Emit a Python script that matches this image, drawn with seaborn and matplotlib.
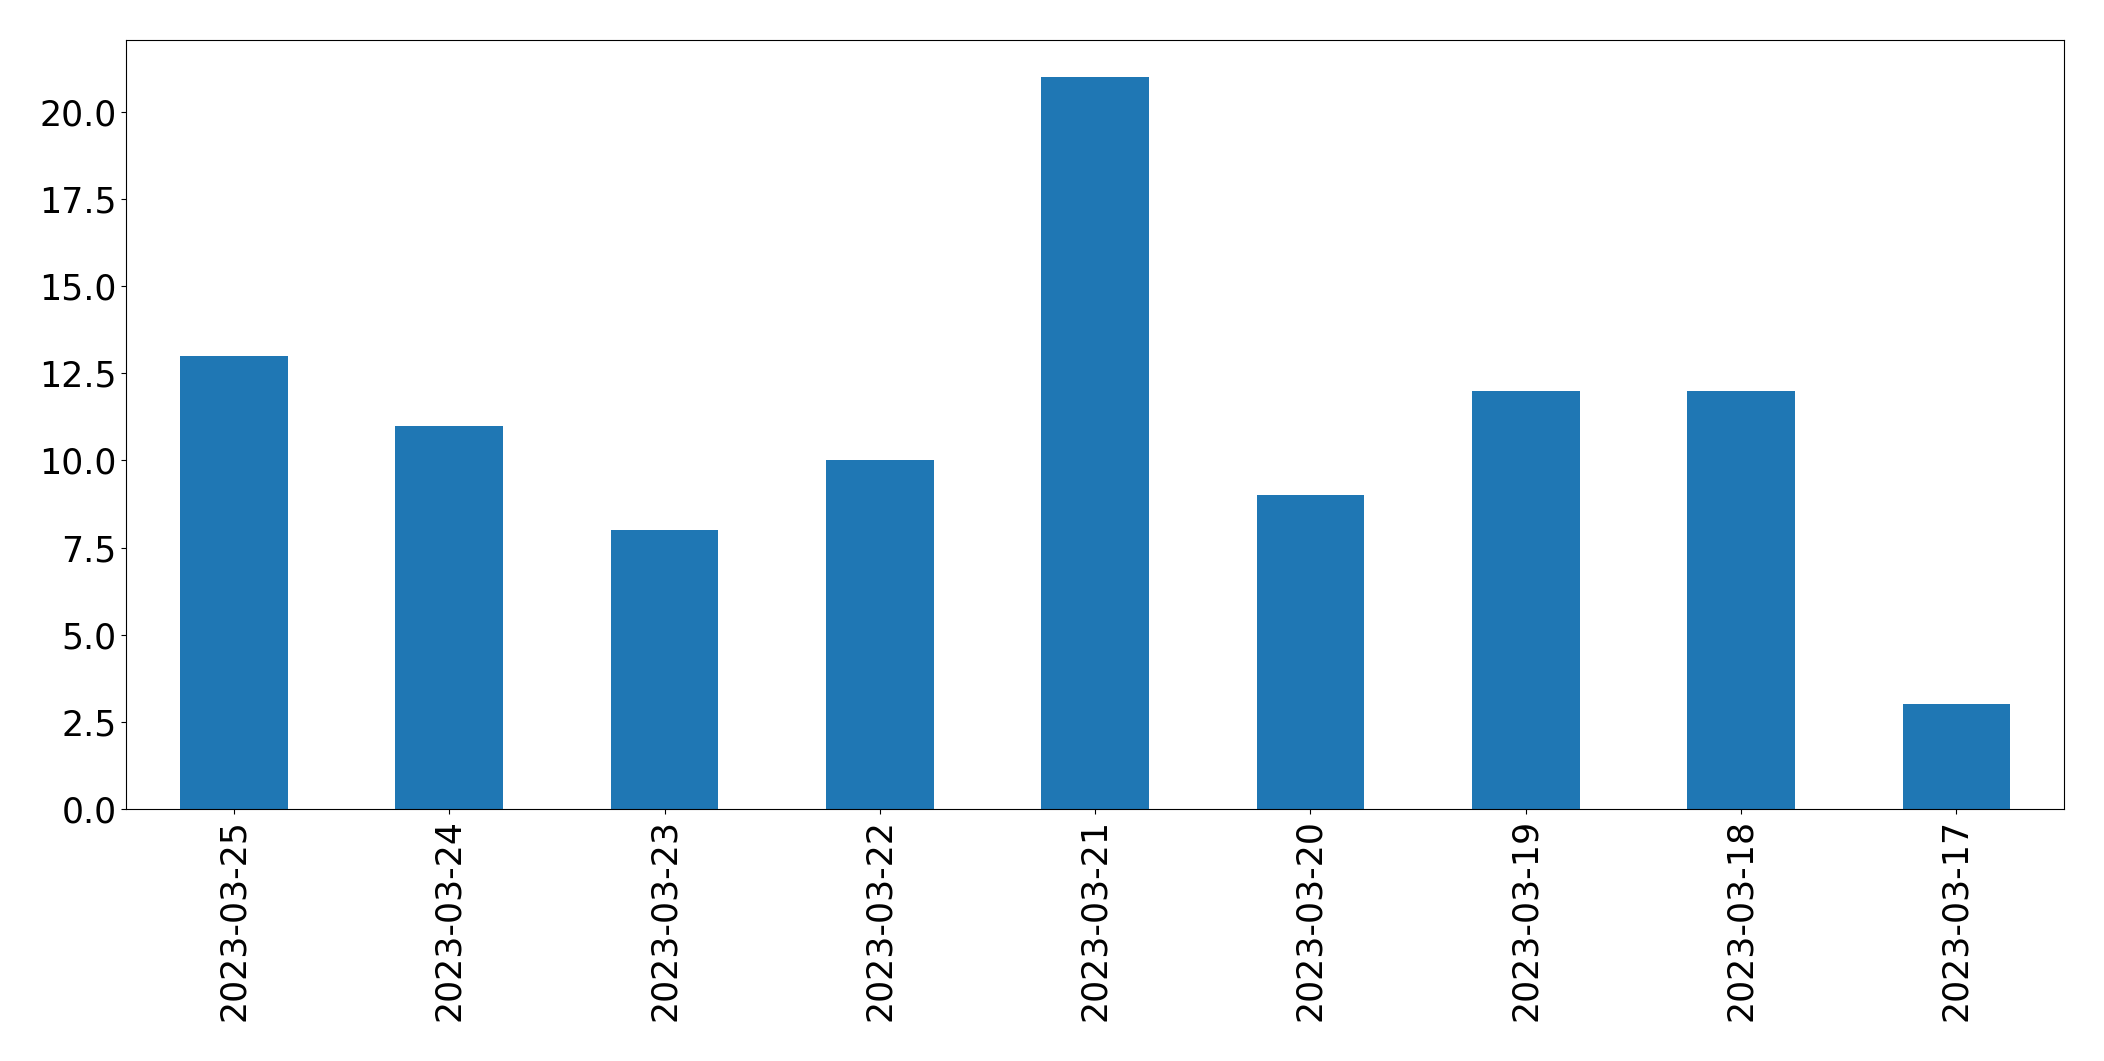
import matplotlib
matplotlib.use("Agg")
import matplotlib.pyplot as plt
import seaborn as sns
import pandas as pd

dates = ["2023-03-25", "2023-03-24", "2023-03-23", "2023-03-22", "2023-03-21",
         "2023-03-20", "2023-03-19", "2023-03-18", "2023-03-17"]
counts = [13, 11, 8, 10, 21, 9, 12, 12, 3]

df = pd.DataFrame({"date": dates, "count": counts})

fig = plt.figure(figsize=(21.04, 10.61), dpi=100)
ax = fig.add_axes([0.060, 0.2375, 0.921, 0.7245])
sns.barplot(data=df, x="date", y="count", order=dates, color="#1f77b4",
            saturation=1, width=0.5, ax=ax)
ax.set_xlim(-0.5, len(dates) - 0.5)
ax.set_ylim(0, max(counts) * 1.05)
ax.set_xlabel("")
ax.set_ylabel("")
ax.tick_params(axis="both", labelsize=25)
ax.tick_params(axis="x", labelrotation=90)
fig.savefig("out.png", dpi=100)
